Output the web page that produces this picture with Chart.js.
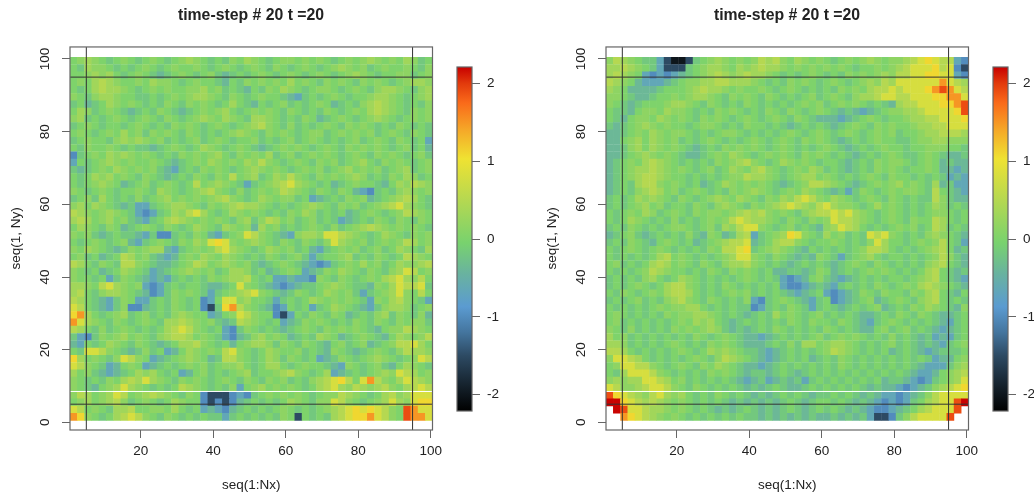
<!DOCTYPE html>
<html>
<head>
<meta charset="utf-8">
<script src="https://cdn.jsdelivr.net/npm/chart.js@4"></script>
<style>
  html, body { margin: 0; padding: 0; background: #fff; overflow: hidden; }
  canvas { position: absolute; top: 0; }
</style>
</head>
<body>
<canvas id="plotA" width="502" height="495" style="left:0"></canvas>
<canvas id="barA" width="70" height="495" style="left:440px"></canvas>
<canvas id="plotB" width="502" height="495" style="left:536px"></canvas>
<canvas id="barB" width="70" height="495" style="left:976px"></canvas>
<script>
// each letter is a value, one letter per 2x2 block of the field
const levelKeys = 'abcdefghijklmno';
const levelValues = [-2, -1.5, -1, -0.65, -0.38, -0.18, 0, 0.15, 0.32, 0.5, 0.8, 1.1, 1.5, 1.9, 2.2];

// rows run from the top of the plot (y = 100) down, '.' is an empty block
const fieldA = [
  'ghihgfghgf ghgfghihgf gfhgihgfgh hghghgfghg hihghgihfg',
  'gfihhgfgfg hgfghgghgf ghgfghgfhg fghgfghihg hfghgghgfh',
  'gghihigfgh gfefghgfgh fefgfghgfg hgfghgfghi hgfgghhfgh',
  'ghgijihggh gihhgfghgg fegfhghghg ighgfhghgf hghgfghiih',
  'gfgijiihgf ghghgghhig hfgfegfhgi hgfghhgfgh gfhiihgfhi',
  'hgfhiihggf fgfghghiih gfhgfghggf edfgfghgfg ghiihgfghi',
  'fgefgihghg fgfhgfhghg fgigfegfgh fgfghgefgf hijihgfgfh',
  'gihfghgfef gfhgfefghg higfghghgf hgfgfhgfgh gijihgfhgh',
  'hifgfghgfg hgfhgfghih gihgfiihgf gfhgefghgf ghihgfghgh',
  'fghgfggfgh gfgfhghgfg hgfghijhgf hfgfghgfhg hgfgfhgfgf',
  'ghgfghgigh fhghgfhgfg fghihgfhgh gfghhfghgh ghfghgfhgf',
  'fghggfhihi hghfgfghfg hgfgghfgfg hfghgfgfgh fghgfhgfgd',
  'gfhgghgfgf fefghgfgih gfghgfefgh ghgfghgfhg hghgfghfge',
  'cfghgihihg hgfgfhghgh igfhghgifg hfghghgfgh gfhghgfghf',
  'dgfghihghg ghgfefghgi hghgihjhgf ghgfhghfgh igfhghgfgh',
  'fefghgihgh ghfedfgfhg hgfghihghg fghghfghig hghfghifgh',
  'gfgihighgf hgfefgfhgf hgjghifgih jhgfhghghi hfgfhgihfg',
  'gfghihgefg hfghgfgjgh ihgfdfghij kihgfgefgh ggfegihjih',
  'hgfghgfggh gfihgfghij hgfhfghghj ihgfhgfhge dcfgfhihgh',
  'fghfigfgfh fghighghgh ijhgfgihgh hfgdefgfhg hefghijigf',
  'higihgfefd dfghiihgfh ghijiihgfg fghihgfhgh fghijkihgf',
  'jihghihgfd cdfgihjkig fgihghgfgf hgihfgfgef ghgfghjihg',
  'ijighighfe dfgijihghg hgfhifhjig hfghfgfdef gfhgfhgfhg',
  'gihgfhgefg hgfhgfgihg fihgheighf gfghgfhfgh ijihghghgf',
  'hghfefgffe dfccfgfhge dfghkjhgfe dhiihkkjih gfgihgfhgh',
  'gfghgfghed fghgfhgihk lkhghihgfh gfhgfhkihg hfghghjigh',
  'hgihgfefhg hiiedfghgh jkihgfgihg hfgedfghgh fghfgihgfi',
  'ghfgefgjig hfedeghgih gihgfgfhgf ghfdfgghif gfhgfgjihg',
  'jigfhgfjjh gfeefghjig hihghfefgh gfedcdfghg ighfgihhij',
  'hgfgefgihg fdefghihgh fgiihfgefg hgdefhgihg fhgfhikjgh',
  'hggfgdfhgf ededfgfgfh ghiijgfgdd eddchgfhgf ghgijkihjg',
  'iihgjkihgh dcdfgfggfe efgkhgfedc deffghihgf fehgikjjkf',
  'ijgfhiihgf ecdfhghgfd fghijkhgfe fhgfgihghf dfghikhgjg',
  'jigfedfhgd dfgfhgfgcd gkkhiggfdf gfgihghghg fdhgijhgfd',
  'kjgfedfhcc efgfhgfgcb flmjhgfecd gfgdfgihgf edfhiihfgh',
  'lmigfghifg hfgfhihggd eghkjhggcb dgfhgfhgef gfhifhgfhe',
  'mkihgfhgfg hgfiijihgh fefjihgfgd efhghgfgfh gfhgfhghhf',
  'jigfhfghgf gfgijkjhgf gdcfhgfgfe fghgfhghgh gfeghhjihg',
  'fdcfhghigh gfhijjighg fdcefhighg efgfihgefg hgfegihghj',
  'edgfgihgfh gfefgiijhg fgeghiihfh gfhgfeghfg hefghjjkig',
  'gfkkjhgfef hfgdegihgh gjkhgfgihg ghfgfehgfe fghgfhjiih',
  'lighgfhkjh gdefghihge fjjhgfgihf hgfgdefhgf ghihgfghkj',
  'kjhgfdeghg defgfghghf ghhigfgiig fghggfedhg fghfegihgf',
  'ighfedefgi higfgdeghf gfghifgghi jhgfgidefg fghihkjigh',
  'hgfgfhgiji kihgfhghgf ghgfhgfhgh fgfhijkljg kmjhgikjih',
  'hgfeghikih gfgfgjihgf gfhdghighg hgfgijkihj ihijhgijkj',
  'hjighikjgh ijihgfhgcb bbcdcfghgh ghgfghhjih gfgijhikkk',
  'ghighijhfg hgfgihggcb cbcefgfgfg ihgfhhkjhg fghikihkll',
  'kjghgfiijg ghhgigfgde dcefgfgfgh gfgfghijkl klkjhgnmkk',
  'mlhgfgijkj hgfhgfgfgf fdfgfgfgfh gbgfgfijkl lmkjhgnmmk'
];

const fieldB = [
  'hjihgffdba abfghihghg hjijhgihgh gfghghihgh hijklkjjdc',
  'iijihgfdbb bfghiihgih ijiihghghg hghgfgghgh ijkkkljkcb',
  'ijihgdcdcd efghijihij iihgfgfghg fgfhghghih jjkkllkkdc',
  'jihgedddef ghhiijjiii hgfgfhghgf ghgfghihji kkkkkkmkji',
  'ihgeeeefgg ghijiihghg ghgfghgfgf gfhghgijjk jkkklmnmkj',
  'hhgfeefggh ghiihgfhgh gfhgfgfghf ghgfhiijkk jjkkkllmmk',
  'hgfefggghi ihgfhgfgfh gfgfgfghgh fghghgfgfe ijjkkkllmn',
  'gffeghhgih hgfgfhghgf gfhgfhgfgh gfefedefgh hiijkkkkln',
  'gfeghhgihg hgfhghgfgh gfghgfhgfe eedefghgfg ghiijjkkkl',
  'fefghihghg gfghhgfgfh ggfgfefgfg fefghgfhgh gghiijjkkk',
  'eefghgihgh hgfgfghhgf gfgfghgfgh gfghgfghgh fgghiijjji',
  'eeghigihgh fgfghgfgfg hgfghgfhgh gfefgfghgg ffghhiihhh',
  'eefhigihgh gfefgfhghg hgfghgfgfg hgfefgfghg gfgghhhggf',
  'eefghihghg feefghgihg fghghgfhgh gfgfefgfgh gffghgfeef',
  'efghgijihg fgfgfhghij hgfgihghgf ggfefgfhgh hgfghgefee',
  'efghiijihg hgfghfgihg ijhgfghgih fgfefgfhgh gfgghgeede',
  'efghijjihg gfgfgfghhj iihgfghiig hgfgfghgfh ggfgfgfded',
  'efgfijjhgh gfgefgihgh ghgfefghjj ihgfefghgh ighgfiefdd',
  'efgfhijigh fghgfgfhgh ihgfghgihg fefdfhgfgh ghhgfjgfed',
  'fgfgihihgf hgfghihgih gfhgihjkjh gihgfghgfh gfgffjhfee',
  'fgfghighfg gfhgfhihgf hghijkjihj kihhgfgigh gfgfgihfgf',
  'gfghgihfgh gfhghhghij ijhghgfhij jkjkihgfgh gfgfghhgfg',
  'gfgihgfgfh fgfghghjkj iihgfhgfhg hkjjihgfgh gfhggjigfg',
  'fgfhgfgfgh hgfghfihjk khgfghfgfe hikjigfgfg hghfgjifgf',
  'efghfefgfg fhfehgefij dfghilkhgf ighfgfkjkh gfgfhihgfe',
  'fgfhgfeghg fgefghijjk efgijjhgfg ghgfgfhkig gfghghjgfd',
  'gfghgfghgf gfgfhgjjkl fghihgfegf gfgfghjjig fgfghijgef',
  'gfgfgfgijg hgfgfghikk hgfhgfefeh gfdfghigfg gfgfghjhfe',
  'ghfgfgijig hgfhgfhiij hgfgfefgfg fefghgfhgf gfgfhijgfe',
  'gfgfghjihg gfgfhgfhgh gfgeeffefh gefgfghghg fgfgijgfef',
  'fgfgfhigfg ihgfgfgfgh gfgfdcdegh fedefgfgfg gfghijgfed',
  'fgfghgfgij jhgfgfhgfg fgfgdccdef edfgfgfhgf ghgijihgfe',
  'gfhgfghgij jigfgfghgh fgfgfedefg dcdefhgfhg gfhgijgfeg',
  'fgfghfgfhi jhgfhgfgfh dcfghgfedf gcdefghefg hgfhijgfgf',
  'gfgfgfghgh hiigfgfgff cdfgfhgfdf gfefgfghef gfhgihgfeh',
  'ghgfgfgfhg hhiihgfgfe fgfighgfgh fgfgfeefgf hgfhgfeefg',
  'ghfgfgfgfg hgihigfefg fgfgfhgfhg gfhgfedfgh gfgfgfedfg',
  'hgfhfgfgfh ghghihfefe fgfhgfgfgf hgfgfeeghf ghfgfedefg',
  'ighfgfgfgf gfhgfghgfe edefgfgfgh fghghgfgfh fgfefdedfg',
  'iihfgfgfgh gfgfhghgfe eefgfhfiig hiihgfgfgh fgfefedfgh',
  'jjigfgfgfg hgfgihihgf fedefgfgfg hjihgfgfge fgfedefffg',
  'hkkjigfgfg fghgfhjihg fedefgfgef gfhgfgfgfg fgfgfdeegh',
  'ghkkjjhgfg hgfhgihgfe edefgfgfgf gfhgfgfgfg fgfedddfhi',
  'gfikkkjhgf gfgfhghgfe ffefgfefgf gfgfgfgfgf gfeddeghij',
  'hihiikkjig hfgfgfgfed efdefefdfg fgfgfgfgef fedcdfghik',
  'kjhhijkkjh gfhgfgfgfe fefgfeefgf gfgfgfefee dcdefhijkl',
  'nlkjihjkih igfgfhgfgf efefgfgfef fgfgfefedd cdefhjkkkk',
  'oolkjijihg hgfgfgfefe fefefgfefg gfgfefedcd cdfgijkkno',
  '.onkkjiihg hgfgfefefg fefefgfefg fgfefedccd efgijkkkn.',
  '..mlkjihgh gfgfgfgfgf fefefefefe efefefdbbc fhjkkkkn..'
];

const xTicks = [20, 40, 60, 80, 100];
const blackX = [5, 95];
const blackY = [5, 95];
const whiteY = [8.5];

const barTicks = [-2, -1, 0, 1, 2];
const barRange = [-2.21, 2.21];

// colour scale, value then colour
const paletteValues = [-2.21, -1.9, -1.5, -1.2, -0.87, -0.45, -0.05, 0.5, 1.03, 1.4, 1.75, 2.0, 2.21];
const paletteColors = [
  [0, 0, 0], [20, 32, 42], [45, 74, 99], [68, 117, 158], [91, 155, 209], [105, 178, 160],
  [120, 210, 110], [181, 216, 81], [239, 226, 50], [245, 168, 40], [250, 106, 26], [226, 58, 12], [200, 0, 0]
];

const fontName = '"Liberation Sans", Arial, sans-serif';
const inkColor = '#222';
const axisColor = '#666';

function colorFor(v) {
  let i = 0;
  while (i < paletteValues.length - 2 && v > paletteValues[i + 1]) i++;
  const t = (v - paletteValues[i]) / (paletteValues[i + 1] - paletteValues[i]);
  const a = paletteColors[i], b = paletteColors[i + 1];
  return `rgb(${a.map((c, k) => Math.round(c + (b[k] - c) * t)).join(',')})`;
}

function fieldPoints(rows) {
  const pts = [];
  rows.forEach((row, r) => {
    row.replace(/ /g, '').split('').forEach((key, c) => {
      if (key === '.') return;
      pts.push({ x: 1.5 + 2 * c, y: 99.5 - 2 * r, v: levelValues[levelKeys.indexOf(key)] });
    });
  });
  return pts;
}

// the box round a plot
const boxPlugin = {
  id: 'box',
  afterDraw(chart) {
    const a = chart.chartArea, ctx = chart.ctx;
    ctx.save();
    ctx.strokeStyle = axisColor;
    ctx.lineWidth = 1.2;
    ctx.strokeRect(a.left, a.top, a.right - a.left, a.bottom - a.top);
    ctx.restore();
  }
};

function lineSet(points, color) {
  return { type: 'scatter', data: points, showLine: true, pointRadius: 0, borderColor: color, borderWidth: 1, order: 0 };
}

function makePlot(id, rows) {
  const yMin = -2.1, yMax = 103.3;
  const lines = [];
  blackX.forEach(v => lines.push(lineSet([{ x: v, y: yMin }, { x: v, y: yMax }], '#333')));
  blackY.forEach(v => lines.push(lineSet([{ x: 0.5, y: v }, { x: 100.5, y: v }], '#333')));
  whiteY.forEach(v => lines.push(lineSet([{ x: 0.5, y: v }, { x: 100.5, y: v }], '#fff')));

  new Chart(document.getElementById(id), {
    type: 'scatter',
    data: {
      datasets: lines.concat([{
        data: fieldPoints(rows),
        order: 1,
        pointStyle: 'rect',
        borderWidth: 0,
        backgroundColor: c => colorFor(c.raw.v),
        // rect points are drawn r*cos(45) either side of the centre, a bit extra hides the seams
        pointRadius: c => {
          const s = c.chart.scales.x;
          return Math.abs(s.getPixelForValue(2) - s.getPixelForValue(0)) * Math.SQRT1_2 + 0.3;
        }
      }])
    },
    options: {
      responsive: false,
      animation: false,
      events: [],
      plugins: {
        legend: { display: false },
        tooltip: { enabled: false },
        title: {
          display: true,
          text: 'time-step # 20 t =20',
          color: inkColor,
          font: { family: fontName, size: 15.8, weight: 'bold' },
          padding: { top: 6, bottom: 22 }
        }
      },
      scales: {
        x: {
          type: 'linear',
          min: 0.5,
          max: 100.5,
          afterBuildTicks: s => { s.ticks = xTicks.map(v => ({ value: v })); },
          afterFit: s => { s.height = 65; },
          ticks: { color: inkColor, font: { family: fontName, size: 13.5 }, padding: 5, maxRotation: 0 },
          grid: { drawOnChartArea: false, color: axisColor, tickLength: 8 },
          border: { display: false },
          title: { display: true, text: 'seq(1:Nx)', color: inkColor, font: { family: fontName, size: 13.5 }, padding: { top: 0, bottom: 2 } }
        },
        y: {
          type: 'linear',
          min: yMin,
          max: yMax,
          afterBuildTicks: s => { s.ticks = [0].concat(xTicks).map(v => ({ value: v })); },
          afterFit: s => { s.width = 70; },
          ticks: { color: inkColor, font: { family: fontName, size: 13.5 }, padding: 5, minRotation: 90, maxRotation: 90, crossAlign: 'center' },
          grid: { drawOnChartArea: false, color: axisColor, tickLength: 8 },
          border: { display: false },
          title: { display: true, text: 'seq(1, Ny)', color: inkColor, font: { family: fontName, size: 13.5 }, padding: { top: 8, bottom: 0 } }
        },
        // empty axis, keeps the title centred over the plot
        spacer: {
          type: 'linear',
          position: 'right',
          afterFit: s => { s.width = 69.5; },
          ticks: { display: false },
          grid: { display: false },
          border: { display: false }
        }
      }
    },
    plugins: [boxPlugin]
  });
}

function makeBar(id) {
  new Chart(document.getElementById(id), {
    type: 'bar',
    data: {
      labels: ['scale'],
      datasets: [{
        data: [barRange],
        barPercentage: 1,
        categoryPercentage: 1,
        backgroundColor: c => {
          const chart = c.chart;
          if (!chart.chartArea) return '#fff';
          const g = chart.ctx.createLinearGradient(0, chart.chartArea.bottom, 0, chart.chartArea.top);
          paletteValues.forEach(v => {
            g.addColorStop((v - barRange[0]) / (barRange[1] - barRange[0]), colorFor(v));
          });
          return g;
        }
      }]
    },
    options: {
      responsive: false,
      animation: false,
      events: [],
      layout: { padding: { top: 67, right: 0, bottom: 84, left: 17 } },
      plugins: { legend: { display: false }, tooltip: { enabled: false } },
      scales: {
        x: { display: false },
        y: {
          type: 'linear',
          position: 'right',
          min: barRange[0],
          max: barRange[1],
          afterBuildTicks: s => { s.ticks = barTicks.map(v => ({ value: v })); },
          afterFit: s => { s.width = 38; },
          ticks: { color: inkColor, font: { family: fontName, size: 13.5 }, padding: 7 },
          grid: { drawOnChartArea: false, color: axisColor, tickLength: 8 },
          border: { display: false }
        }
      }
    },
    plugins: [boxPlugin]
  });
}

makePlot('plotA', fieldA);
makeBar('barA');
makePlot('plotB', fieldB);
makeBar('barB');
</script>
</body>
</html>
